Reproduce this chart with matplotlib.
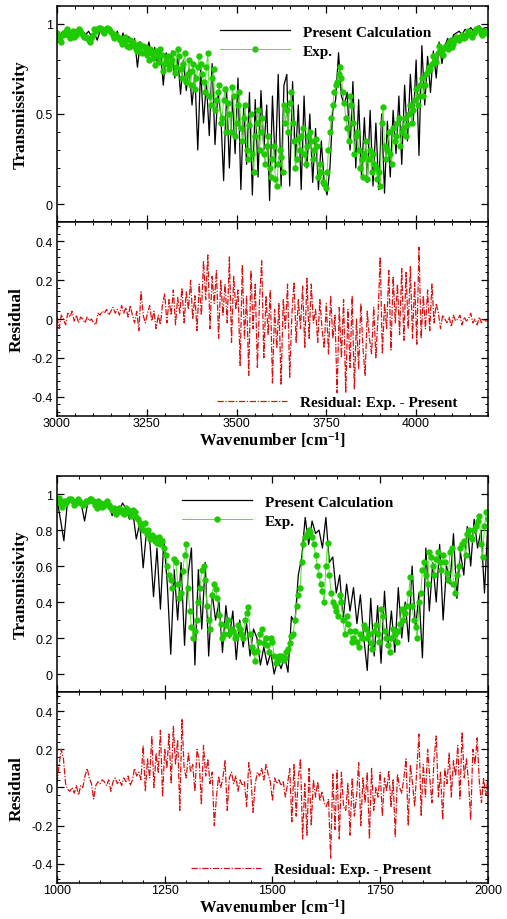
#!/usr/bin/env python
import numpy as np
import matplotlib
matplotlib.use('Agg')
import matplotlib.pyplot as plt
from matplotlib.ticker import MultipleLocator, FormatStrFormatter

# ---- band 1 : 3000-4200 cm-1 ----
wn1Present = np.arange(3000, 4201, 8)
present1 = [
  0.95,0.93,0.96,0.94,0.97,0.95,0.96,0.94,0.95,0.96,
  0.94,0.96,0.93,0.95,0.91,0.96,0.97,0.94,0.98,0.96,
  0.93,0.96,0.90,0.95,0.88,0.93,0.86,0.92,0.76,0.90,
  0.88,0.84,0.90,0.82,0.87,0.78,0.86,0.66,0.84,0.74,
  0.85,0.70,0.82,0.61,0.80,0.63,0.76,0.55,0.72,0.30,
  0.75,0.45,0.68,0.38,0.78,0.33,0.62,0.50,0.13,0.65,
  0.20,0.60,0.28,0.70,0.08,0.55,0.22,0.62,0.05,0.58,
  0.15,0.63,0.30,0.55,0.02,0.60,0.20,0.72,0.10,0.66,
  0.72,0.10,0.68,0.25,0.55,0.08,0.60,0.20,0.50,0.12,
  0.42,0.08,0.35,0.12,0.05,0.20,0.52,0.58,0.84,0.60,
  0.55,0.62,0.30,0.68,0.20,0.58,0.15,0.48,0.12,0.52,
  0.10,0.45,0.08,0.50,0.06,0.46,0.15,0.52,0.28,0.60,
  0.22,0.66,0.35,0.72,0.45,0.80,0.27,0.88,0.55,0.82,
  0.62,0.85,0.70,0.90,0.78,0.88,0.92,0.85,0.94,0.95,
  0.96,0.94,0.97,0.96,0.98,0.96,0.97,0.99,0.97,0.98,
  0.98]
wn1Exp = np.arange(3000, 4201, 4)
exp1 = [
  0.95,0.93,0.91,0.90,0.94,0.95,0.96,0.97,0.94,0.92,0.95,0.96,0.93,0.94,0.96,0.97,0.96,0.95,0.94,0.93,
  0.93,0.92,0.91,0.90,0.92,0.94,0.97,0.96,0.97,0.98,0.98,0.97,0.96,0.95,0.97,0.98,0.97,0.96,0.95,0.94,
  0.92,0.94,0.93,0.92,0.91,0.89,0.90,0.93,0.91,0.88,0.87,0.91,0.89,0.90,0.88,0.86,0.85,0.89,0.87,0.84,
  0.88,0.87,0.85,0.83,0.80,0.86,0.84,0.81,0.77,0.85,0.82,0.79,0.86,0.83,0.74,0.78,0.80,0.82,0.75,0.77,
  0.80,0.84,0.73,0.76,0.86,0.82,0.75,0.70,0.78,0.84,0.68,0.72,0.80,0.66,0.74,0.78,0.64,0.70,0.76,0.82,
  0.78,0.72,0.68,0.62,0.76,0.84,0.60,0.55,0.70,0.75,0.52,0.58,0.62,0.66,0.45,0.48,0.58,0.64,0.40,0.56,
  0.50,0.40,0.65,0.60,0.38,0.45,0.55,0.62,0.42,0.35,0.48,0.55,0.30,0.25,0.44,0.50,0.28,0.18,0.38,0.45,
  0.52,0.30,0.40,0.48,0.28,0.22,0.32,0.38,0.20,0.15,0.25,0.32,0.14,0.10,0.22,0.30,0.26,0.18,0.55,0.45,
  0.52,0.40,0.56,0.62,0.45,0.35,0.20,0.25,0.36,0.30,0.38,0.42,0.28,0.22,0.32,0.38,0.40,0.35,0.25,0.30,
  0.36,0.32,0.15,0.22,0.18,0.12,0.11,0.09,0.18,0.30,0.40,0.48,0.55,0.62,0.66,0.68,0.72,0.76,0.70,0.62,
  0.56,0.48,0.42,0.35,0.60,0.55,0.45,0.28,0.38,0.40,0.30,0.20,0.25,0.15,0.28,0.35,0.14,0.25,0.30,0.18,
  0.28,0.22,0.20,0.14,0.18,0.10,0.45,0.54,0.32,0.25,0.30,0.40,0.28,0.22,0.42,0.35,0.38,0.45,0.48,0.32,
  0.40,0.42,0.48,0.38,0.44,0.50,0.55,0.45,0.52,0.58,0.64,0.55,0.60,0.66,0.70,0.60,0.66,0.72,0.74,0.76,
  0.75,0.78,0.82,0.80,0.79,0.84,0.88,0.86,0.85,0.83,0.87,0.88,0.86,0.90,0.91,0.87,0.89,0.91,0.93,0.92,
  0.91,0.93,0.94,0.92,0.93,0.94,0.96,0.95,0.94,0.93,0.95,0.96,0.97,0.98,0.97,0.95,0.94,0.96,0.96,0.95,
  0.96]
wn1Res = np.arange(3000, 4201, 6)
res1 = [
  0.01,-0.05,0.02,0.00,-0.03,0.03,0.01,0.04,-0.01,0.02,
  -0.02,0.01,0.00,-0.02,0.01,-0.01,0.00,-0.02,-0.03,0.03,
  0.02,0.04,0.03,0.05,0.02,0.04,0.06,0.03,0.05,0.02,
  0.07,0.03,0.06,0.01,0.07,0.02,-0.02,0.04,-0.06,0.14,
  0.02,-0.02,0.03,0.07,-0.01,0.04,-0.05,0.02,-0.03,0.08,
  0.13,-0.02,0.10,0.02,0.15,-0.03,0.11,0.03,0.16,-0.02,
  0.14,0.05,0.20,0.00,0.12,-0.06,0.18,0.02,0.30,0.10,
  0.33,-0.05,0.22,0.08,0.25,-0.10,0.20,0.02,0.18,-0.02,
  0.32,-0.12,0.22,0.05,0.15,-0.24,0.28,-0.10,0.12,-0.29,
  0.25,-0.05,0.18,-0.25,0.10,0.30,-0.20,0.12,-0.08,0.15,
  -0.33,0.05,-0.15,0.08,-0.34,0.10,-0.05,0.18,-0.30,0.02,
  0.19,-0.12,0.10,-0.05,0.17,-0.15,0.21,-0.10,0.18,-0.02,
  0.05,-0.12,0.10,-0.05,-0.15,0.08,-0.18,0.12,-0.10,0.02,
  -0.38,0.06,-0.20,0.10,-0.38,0.05,-0.25,0.12,-0.36,0.00,
  -0.26,0.08,-0.15,-0.29,0.04,-0.10,-0.18,0.06,-0.20,0.02,
  0.32,-0.18,0.08,-0.05,0.25,-0.16,0.22,-0.02,0.18,-0.08,
  0.26,-0.11,0.24,-0.05,0.27,-0.10,0.19,-0.13,0.37,-0.10,
  0.12,-0.05,0.15,-0.06,0.18,-0.02,0.08,0.03,-0.05,0.02,
  0.00,-0.02,0.01,-0.04,0.02,-0.01,0.00,0.02,-0.03,0.01,
  -0.01,0.00,0.03,-0.02,0.00,-0.03,0.01,-0.02,0.00,-0.01,
  -0.01]

# ---- band 2 : 1000-2000 cm-1 ----
wn2Present = np.arange(1000, 2001, 8)
present2 = [
  0.97,0.86,0.74,0.95,0.97,0.96,0.97,0.95,0.85,0.96,
  0.95,0.97,0.94,0.96,0.92,0.95,0.88,0.93,0.90,0.95,
  0.92,0.86,0.90,0.75,0.84,0.59,0.80,0.72,0.43,0.70,
  0.36,0.75,0.50,0.11,0.58,0.30,0.62,0.16,0.55,0.70,
  0.05,0.58,0.25,0.62,0.10,0.45,0.30,0.40,0.12,0.38,
  0.20,0.35,0.08,0.30,0.15,0.28,0.10,0.25,0.20,0.05,
  0.15,0.05,0.12,0.00,0.08,0.03,0.10,0.01,0.32,0.28,
  0.55,0.65,0.87,0.72,0.85,0.78,0.80,0.70,0.87,0.62,
  0.65,0.45,0.55,0.30,0.50,0.35,0.48,0.28,0.44,0.20,
  0.02,0.42,0.10,0.38,0.06,0.46,0.15,0.35,0.12,0.48,
  0.20,0.40,0.18,0.60,0.25,0.45,0.09,0.70,0.35,0.62,
  0.40,0.72,0.30,0.60,0.50,0.78,0.42,0.68,0.55,0.82,
  0.60,0.86,0.70,0.80,0.45,0.85]
wn2Exp = np.arange(1000, 2001, 4)
exp2 = [
  0.97,0.98,0.95,0.93,0.96,0.95,0.96,0.97,0.97,0.96,0.94,0.95,0.97,0.96,0.95,0.94,0.95,0.96,0.96,0.97,
  0.97,0.96,0.94,0.92,0.96,0.95,0.93,0.94,0.95,0.96,0.94,0.93,0.91,0.92,0.89,0.90,0.92,0.91,0.90,0.89,
  0.92,0.91,0.90,0.88,0.91,0.90,0.87,0.86,0.84,0.82,0.80,0.84,0.78,0.80,0.75,0.77,0.76,0.74,0.73,0.76,
  0.72,0.74,0.70,0.66,0.60,0.55,0.52,0.48,0.64,0.62,0.50,0.42,0.45,0.57,0.66,0.72,0.48,0.35,0.26,0.20,
  0.24,0.30,0.40,0.48,0.58,0.60,0.52,0.38,0.30,0.25,0.44,0.50,0.47,0.42,0.33,0.28,0.20,0.22,0.27,0.30,
  0.22,0.25,0.24,0.20,0.21,0.27,0.25,0.22,0.20,0.30,0.34,0.37,0.22,0.15,0.12,0.07,0.13,0.18,0.22,0.25,
  0.17,0.20,0.16,0.12,0.20,0.18,0.10,0.06,0.08,0.10,0.10,0.08,0.09,0.12,0.14,0.17,0.21,0.22,0.30,0.38,
  0.44,0.48,0.62,0.72,0.76,0.78,0.80,0.79,0.76,0.72,0.66,0.60,0.55,0.50,0.46,0.40,0.60,0.73,0.55,0.45,
  0.40,0.38,0.35,0.32,0.44,0.40,0.30,0.22,0.32,0.28,0.24,0.18,0.20,0.24,0.18,0.15,0.22,0.20,0.27,0.25,
  0.20,0.22,0.17,0.14,0.24,0.27,0.22,0.18,0.36,0.32,0.24,0.20,0.16,0.12,0.20,0.25,0.22,0.18,0.24,0.28,
  0.36,0.30,0.34,0.38,0.45,0.54,0.38,0.30,0.26,0.20,0.40,0.45,0.58,0.62,0.55,0.50,0.68,0.65,0.60,0.55,
  0.64,0.68,0.62,0.58,0.66,0.62,0.56,0.52,0.68,0.70,0.50,0.45,0.55,0.60,0.70,0.72,0.74,0.66,0.78,0.80,
  0.76,0.75,0.80,0.82,0.85,0.88,0.72,0.65,0.82,0.90,
  0.86]
wn2Res = np.arange(1000, 2001, 5)
res2 = [
  0.02,0.12,0.20,0.15,0.02,-0.01,-0.02,0.00,-0.03,0.01,
  -0.04,0.01,0.00,0.06,0.10,0.05,0.02,-0.06,0.01,0.03,
  0.02,0.04,0.03,0.01,0.04,-0.02,0.03,0.05,0.02,0.04,
  0.01,0.05,0.03,0.06,0.01,0.04,0.10,0.06,0.08,0.04,
  0.22,-0.02,0.15,0.05,0.27,0.00,0.18,0.08,0.30,-0.05,
  0.20,0.10,0.28,0.02,0.32,0.12,0.25,-0.12,0.36,0.10,
  0.05,0.18,0.08,0.12,-0.02,0.20,0.14,-0.09,0.22,0.06,
  0.15,0.02,0.08,-0.20,-0.05,0.06,0.00,0.05,0.14,-0.12,
  0.05,0.08,0.02,0.06,-0.02,0.04,0.01,0.03,-0.10,0.13,
  0.05,-0.13,0.02,0.08,0.06,0.10,0.04,0.12,0.07,0.03,
  -0.07,0.05,0.02,0.04,0.01,0.03,-0.05,0.02,0.10,-0.18,
  0.12,-0.15,0.05,0.15,-0.27,0.02,-0.25,0.10,-0.20,0.04,
  -0.05,0.03,-0.07,-0.02,-0.08,-0.10,-0.06,-0.37,0.07,-0.22,
  0.09,-0.27,0.08,-0.10,-0.12,0.02,-0.25,0.05,-0.15,-0.05,
  0.13,-0.20,0.05,-0.08,0.08,-0.27,0.10,-0.12,0.00,-0.05,
  0.08,-0.15,0.05,-0.02,0.09,-0.10,0.04,-0.26,0.07,0.00,
  -0.03,0.05,0.15,-0.20,0.12,0.02,-0.10,0.10,0.28,-0.15,
  0.12,-0.05,0.20,0.05,-0.08,0.15,0.27,-0.05,0.08,-0.17,
  0.10,0.02,0.18,-0.05,0.14,0.06,0.22,-0.06,0.29,0.05,
  0.15,0.03,-0.17,0.20,0.12,0.26,0.03,-0.08,0.05,-0.04,
  0.05]

SANS = 'Liberation Sans'
SERIF = 'Liberation Serif'
LABEL_FONT = dict(family=SERIF, weight='bold', size=12.5)
XLABEL_FONT = dict(family=SERIF, weight='bold', size=12)
LEGEND_FONT = dict(family=SERIF, weight='bold', size=11)


def styleAxis(ax, xMajor, yMajor, yMinor, showXLabels):
  ax.xaxis.set_major_locator(MultipleLocator(xMajor))
  ax.xaxis.set_minor_locator(MultipleLocator(50))
  ax.yaxis.set_major_locator(MultipleLocator(yMajor))
  ax.yaxis.set_minor_locator(MultipleLocator(yMinor))
  ax.yaxis.set_major_formatter(FormatStrFormatter('%g'))
  ax.tick_params(which='both', direction='in', top=True, right=True)
  ax.tick_params(which='major', length=5, width=0.9, labelsize=9, pad=3)
  ax.tick_params(which='minor', length=2.5, width=0.7)
  ax.tick_params(axis='x', labelbottom=showXLabels, pad=1)
  for lab in ax.get_xticklabels() + ax.get_yticklabels():
    lab.set_family(SANS)
  for s in ax.spines.values():
    s.set_linewidth(1.1)


def drawBand(fig, topRect, botRect, xlim, yMajorT, wnP, pres, wnE, expv, wnR, res, legX):
  axT = fig.add_axes(topRect)
  axR = fig.add_axes(botRect, sharex=axT)

  axT.plot(wnP, pres, color='black', linewidth=0.9, label='Present Calculation')
  axT.plot(wnE, expv, color='#5bdc3a', linewidth=0.7, marker='o', markersize=4.6,
    markerfacecolor='#1ecb00', markeredgewidth=0, label='Exp.')
  axT.set_xlim(*xlim)
  axT.set_ylim(-0.1, 1.1)
  axT.set_ylabel('Transmissivity', fontdict=LABEL_FONT, labelpad=5)
  styleAxis(axT, 250, yMajorT, 0.1, False)
  axT.legend(loc='center left', bbox_to_anchor=(legX[0], 0.836), frameon=False,
    prop=LEGEND_FONT, handlelength=4.6, handletextpad=0.85, labelspacing=0.35,
    borderpad=0, borderaxespad=0, numpoints=1)

  axR.plot(wnR, res, color='#d81010', linewidth=0.9, linestyle=(0, (5, 1.3, 1, 1.3)),
    label='Residual: Exp. - Present')
  axR.set_ylim(-0.5, 0.5)
  axR.set_ylabel('Residual', fontdict=LABEL_FONT, labelpad=5)
  axR.set_xlabel(r'Wavenumber [cm$^{-1}$]', fontdict=XLABEL_FONT, labelpad=0)
  styleAxis(axR, 250, 0.2, 0.04, True)
  axR.set_xlim(*xlim)
  axR.legend(loc='center left', bbox_to_anchor=(legX[1], 0.072), frameon=False,
    prop=LEGEND_FONT, handlelength=4.6, handletextpad=0.85,
    borderpad=0, borderaxespad=0)
  return axT, axR


def main():
  assert len(wn1Present) == len(present1)
  assert len(wn1Exp) == len(exp1)
  assert len(wn1Res) == len(res1)
  assert len(wn2Present) == len(present2)
  assert len(wn2Exp) == len(exp2)
  assert len(wn2Res) == len(res2)

  plt.rcParams['axes.unicode_minus'] = False
  plt.rcParams['mathtext.fontset'] = 'custom'
  plt.rcParams['mathtext.rm'] = 'Liberation Serif:bold'
  plt.rcParams['mathtext.it'] = 'Liberation Serif:bold'
  plt.rcParams['mathtext.bf'] = 'Liberation Serif:bold'

  fig = plt.figure(figsize=(5.07, 9.2), dpi=100)
  left, width = 0.1124, 0.850
  drawBand(fig, [left, 0.7576, width, 0.2348], [left, 0.5467, width, 0.2109],
    (3000, 4200), 0.5, wn1Present, present1, wn1Exp, exp1, wn1Res, res1, (0.378, 0.371))
  drawBand(fig, [left, 0.2467, width, 0.2348], [left, 0.0392, width, 0.2075],
    (1000, 2000), 0.2, wn2Present, present2, wn2Exp, exp2, wn2Res, res2, (0.290, 0.311))

  fig.savefig('out.png', dpi=100)
  return 0


if __name__ == '__main__':
  main()
